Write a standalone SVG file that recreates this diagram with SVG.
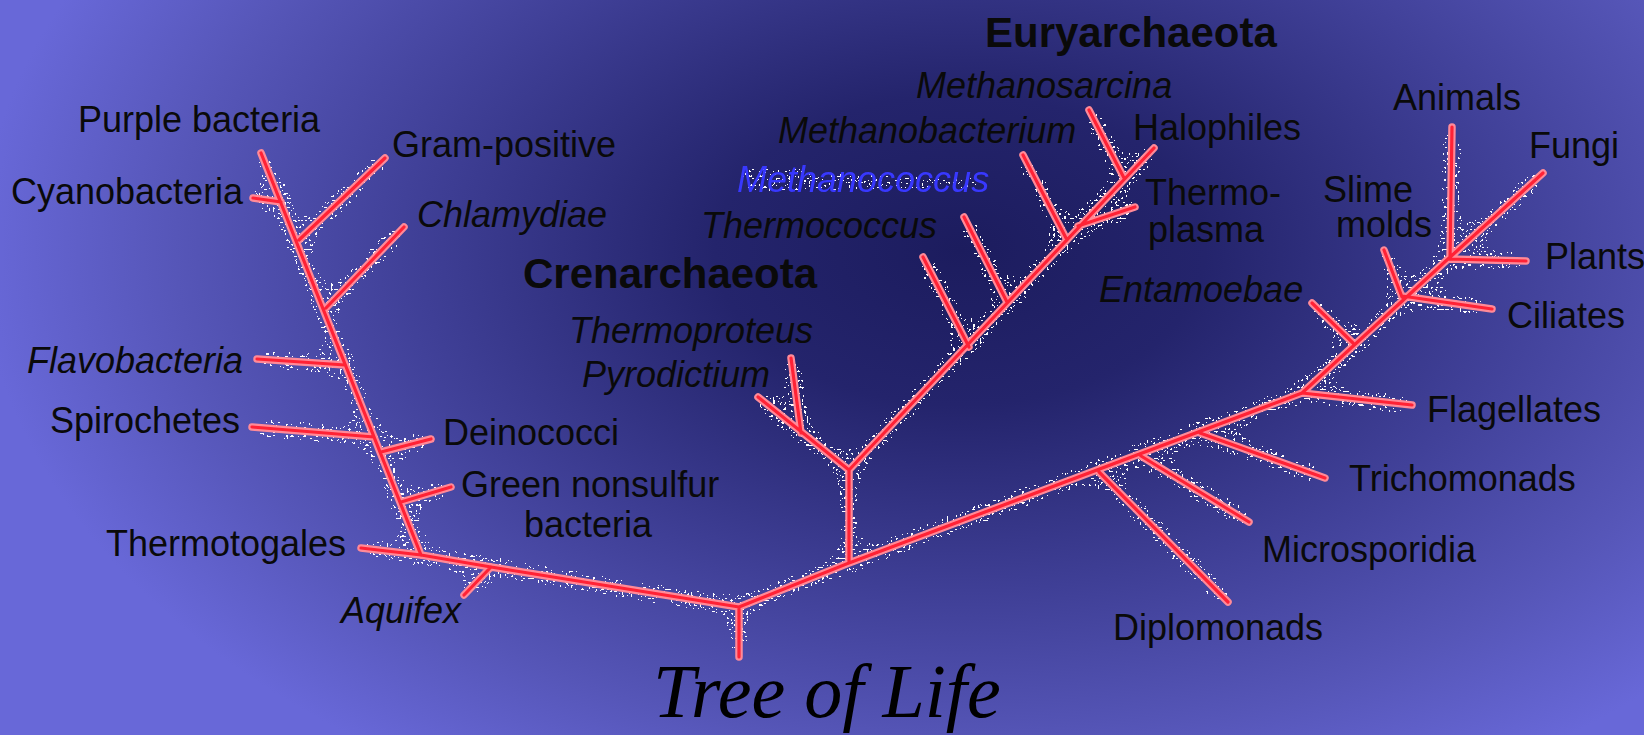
<svg xmlns="http://www.w3.org/2000/svg" width="1644" height="735" viewBox="0 0 1644 735">
<defs>
  <radialGradient id="bg" gradientUnits="userSpaceOnUse" cx="960" cy="250" r="1" gradientTransform="translate(960 250) scale(980 620) translate(-960 -250)">
    <stop offset="0" stop-color="#1c1c5e"/>
    <stop offset="0.25" stop-color="#24246c"/>
    <stop offset="0.55" stop-color="#3f3f96"/>
    <stop offset="0.8" stop-color="#5656b8"/>
    <stop offset="1" stop-color="#6868d8"/>
  </radialGradient>
  <filter id="speck" filterUnits="userSpaceOnUse" x="0" y="0" width="1644" height="735">
    <feGaussianBlur in="SourceAlpha" stdDeviation="11" result="zone0"/>
    <feComponentTransfer in="zone0" result="zone"><feFuncA type="linear" slope="4" intercept="0"/></feComponentTransfer>
    <feTurbulence type="fractalNoise" baseFrequency="0.45" numOctaves="1" seed="11" result="noise"/>
    <feColorMatrix in="noise" type="matrix" values="0 0 0 0 1  0 0 0 0 1  0 0 0 0 1  6 0 0 0 -3" result="dots"/>
    <feComposite in="dots" in2="zone" operator="in" result="prod"/>
    <feComponentTransfer in="prod" result="sp"><feFuncA type="discrete" tableValues="0 0 0 0 1"/></feComponentTransfer>
    <feMerge><feMergeNode in="sp"/><feMergeNode in="SourceGraphic"/></feMerge>
  </filter>
  <style>
    .lbl{font-family:"Liberation Sans",Arial,sans-serif;font-size:36px;fill:#0a0a0a}
    .it{font-style:italic}
    .bd{font-weight:bold;font-size:42px}
    .title{font-family:"Liberation Serif","Times New Roman",serif;font-style:italic;font-size:76px;fill:#000}
    .out{stroke:#ff8a98;stroke-width:7.5;stroke-linecap:round;fill:none}
    .in{stroke:#ff2236;stroke-width:3.2;stroke-linecap:round;fill:none}
  </style>
  <g id="tree">
    <path d="M261,153 L421,555 M253,198 L281,202 M299,240 L385,158 M326,308 L404,227 M257,359 L345,365 M252,427 L374,437 M381,452 L431,439 M401,502 L451,487 M361,548 L421,555 M421,555 L491,567 L739,607 M491,567 L464,595 M739,607 L739,657 M739,607 L849,563 L849,470 M849,470 L758,397 M791,358 L801,433 M849,470 L1154,148 M923,257 L969,347 M964,217 L1007,302 M1023,155 L1066,238 M1078,226 L1135,207 M1089,110 L1124,178 M849,563 L1302,393 L1448,259 M1450,259 L1452,127 M1448,259 L1543,173 M1448,259 L1526,261 M1384,250 L1402,297 M1402,296 L1492,309 M1312,303 L1353,343 M1302,393 L1412,405 M1200,433 L1325,478 M1141,456 L1249,522 M1099,472 L1228,602"/>
  </g>
</defs>
<rect width="1644" height="735" fill="url(#bg)"/>
<g id="connectors" filter="url(#speck)">
  <use href="#tree" class="out"/>
  <use href="#tree" class="in"/>
</g>
<g id="n-purple"><text class="lbl" x="78" y="132">Purple bacteria</text></g>
<g id="n-gram"><text class="lbl" x="392" y="157">Gram-positive</text></g>
<g id="n-cyano"><text class="lbl" x="11" y="204">Cyanobacteria</text></g>
<g id="n-chlam"><text class="lbl it" x="417" y="227">Chlamydiae</text></g>
<g id="n-flavo"><text class="lbl it" x="27" y="373">Flavobacteria</text></g>
<g id="n-spiro"><text class="lbl" x="50" y="433">Spirochetes</text></g>
<g id="n-deino"><text class="lbl" x="443" y="445">Deinococci</text></g>
<g id="n-green"><text class="lbl" x="461" y="497">Green nonsulfur</text><text class="lbl" x="524" y="537">bacteria</text></g>
<g id="n-thermotog"><text class="lbl" x="106" y="556">Thermotogales</text></g>
<g id="n-aquifex"><text class="lbl it" x="341" y="623">Aquifex</text></g>
<g id="n-eury"><text class="lbl bd" x="985" y="47">Euryarchaeota</text></g>
<g id="n-cren"><text class="lbl bd" x="523" y="288">Crenarchaeota</text></g>
<g id="n-msarc"><text class="lbl it" x="916" y="98">Methanosarcina</text></g>
<g id="n-mbact"><text class="lbl it" x="778" y="143">Methanobacterium</text></g>
<g id="n-halo"><text class="lbl" x="1133" y="140">Halophiles</text></g>
<g id="n-mcocc" filter="url(#speck)"><text class="lbl it" x="737" y="192" style="fill:#3838ff">Methanococcus</text></g>
<g id="n-tcocc"><text class="lbl it" x="701" y="238">Thermococcus</text></g>
<g id="n-tplasma"><text class="lbl" x="1145" y="205">Thermo-</text><text class="lbl" x="1148" y="242">plasma</text></g>
<g id="n-tprot"><text class="lbl it" x="569" y="343">Thermoproteus</text></g>
<g id="n-pyro"><text class="lbl it" x="582" y="387">Pyrodictium</text></g>
<g id="n-entam"><text class="lbl it" x="1099" y="302">Entamoebae</text></g>
<g id="n-animals"><text class="lbl" x="1393" y="110">Animals</text></g>
<g id="n-fungi"><text class="lbl" x="1529" y="158">Fungi</text></g>
<g id="n-slime"><text class="lbl" x="1323" y="202">Slime</text><text class="lbl" x="1336" y="237">molds</text></g>
<g id="n-plants"><text class="lbl" x="1545" y="269">Plants</text></g>
<g id="n-cil"><text class="lbl" x="1507" y="328">Ciliates</text></g>
<g id="n-flag"><text class="lbl" x="1427" y="422">Flagellates</text></g>
<g id="n-trich"><text class="lbl" x="1349" y="491">Trichomonads</text></g>
<g id="n-micro"><text class="lbl" x="1262" y="562">Microsporidia</text></g>
<g id="n-diplo"><text class="lbl" x="1113" y="640">Diplomonads</text></g>
<g id="n-title"><text class="title" x="653" y="717">Tree of Life</text></g>
</svg>
